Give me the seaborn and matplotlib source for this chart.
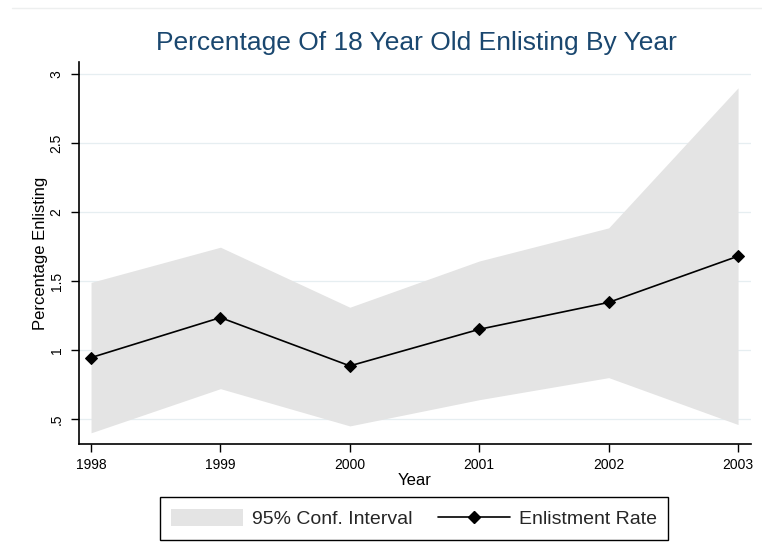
import matplotlib
matplotlib.use("Agg")
import matplotlib.pyplot as plt
import seaborn as sns
import pandas as pd
from matplotlib.patches import Patch
from matplotlib.lines import Line2D

# ---- data ----
years = [1998, 1999, 2000, 2001, 2002, 2003]
rate = [0.945, 1.235, 0.885, 1.15, 1.345, 1.68]
ci_low = [0.40, 0.72, 0.45, 0.64, 0.80, 0.46]
ci_high = [1.49, 1.745, 1.31, 1.645, 1.885, 2.90]
y_ticks = [0.5, 1.0, 1.5, 2.0, 2.5, 3.0]
y_tick_labels = [".5", "1", "1.5", "2", "2.5", "3"]
title = "Percentage Of 18 Year Old Enlisting By Year"
x_label = "Year"
y_label = "Percentage Enlisting"
legend_labels = ["95% Conf. Interval", "Enlistment Rate"]

df = pd.DataFrame({"year": years, "rate": rate, "lo": ci_low, "hi": ci_high})

sns.set_theme(style="white")
plt.rcParams['font.family'] = ['Liberation Sans', 'DejaVu Sans']

W, H = 762, 555
fig = plt.figure(figsize=(W / 100, H / 100), dpi=100)
fig.patch.set_facecolor("white")
ax = fig.add_axes([79 / W, 1 - 444 / H, (751 - 79) / W, (444 - 62) / H])

# grid
ax.set_yticks(y_ticks)
ax.yaxis.grid(True, color="#E6EEF1", linewidth=0.9, zorder=0)
ax.xaxis.grid(False)
ax.set_axisbelow(True)

ax.fill_between(df["year"], df["lo"], df["hi"], color="#E4E4E4", linewidth=0, zorder=1)
sns.lineplot(data=df, x="year", y="rate", ax=ax, color="black", linewidth=1.2,
             marker="D", markersize=6.5, markeredgecolor="black", errorbar=None, zorder=3)

ax.set_xlim(1997.907, 2003.10)
ax.set_ylim(0.319, 3.087)
ax.set_xticks(years)
ax.set_xticklabels([str(y) for y in years], fontsize=10)
ax.set_yticklabels(y_tick_labels, fontsize=10, rotation=90, va="center")

for s in ["top", "right"]:
    ax.spines[s].set_visible(False)
for s in ["left", "bottom"]:
    ax.spines[s].set_visible(True)
    ax.spines[s].set_color("black")
    ax.spines[s].set_linewidth(1.2)

ax.tick_params(axis="both", which="major", direction="out", length=6, width=1.0,
               color="black", labelcolor="black", bottom=True, left=True)
ax.tick_params(axis="y", pad=5)
ax.tick_params(axis="x", pad=4)

ax.set_xlabel(x_label, fontsize=12, color="black", labelpad=1)
ax.set_ylabel(y_label, fontsize=12, color="black", labelpad=1.5)
fig.suptitle(title, x=416 / W, y=1 - 43 / H, va="center", fontsize=19, color="#1A476F")

handles = [Patch(facecolor="#E4E4E4", edgecolor="none"),
           Line2D([0], [0], color="black", linewidth=1.2, marker="D", markersize=6.5)]
leg = fig.legend(handles, legend_labels, loc="center", bbox_to_anchor=(414 / W, 1 - 518.5 / H),
                 ncol=2, fontsize=14, frameon=True, fancybox=False, framealpha=1,
                 edgecolor="black", handlelength=3.7, handleheight=1.0, columnspacing=1.3,
                 handletextpad=0.45, borderpad=0.6)
leg.get_frame().set_linewidth(1.0)

# faint border line at the top of the picture
fig.add_artist(Line2D([12 / W, 1], [1 - 8 / H, 1 - 8 / H], transform=fig.transFigure,
                      color="#EDEFEF", linewidth=1))

fig.savefig("out.png", dpi=100, facecolor="white")
